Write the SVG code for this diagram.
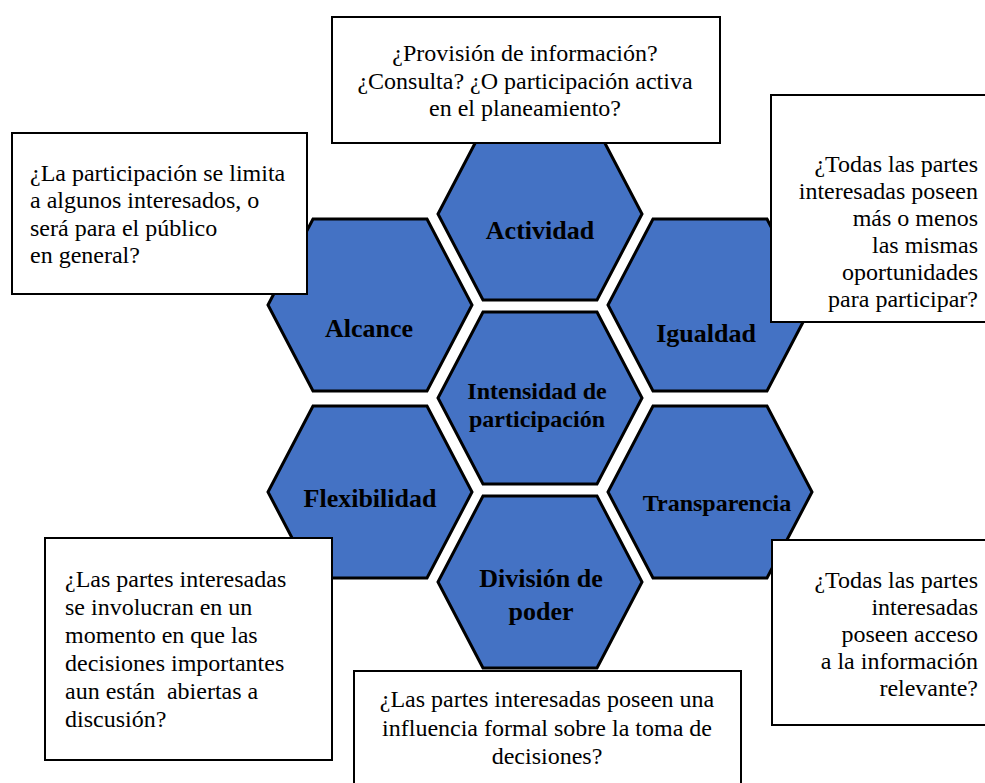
<svg xmlns="http://www.w3.org/2000/svg" width="985" height="783" viewBox="0 0 985 783">
<defs>
<style>
.hex{fill:#4472C4;stroke:#000;stroke-width:3;stroke-linejoin:miter}
.lbl{font-weight:bold;font-size:26px;fill:#000;text-anchor:middle}
.box{fill:#fff;stroke:#000;stroke-width:2}
.t{font-size:24px;fill:#000}
.c{text-anchor:middle}
.r{text-anchor:end}
</style>
<polygon id="hx" points="-102,0 -57,-86 57,-86 102,0 57,86 -57,86"/>
</defs>
<rect width="985" height="783" fill="#fff"/>
<g id="connectors"></g>
<g font-family="'Liberation Serif', Tinos, 'Times New Roman', 'DejaVu Serif', serif">
<g id="actividad"><use href="#hx" class="hex" x="540" y="214"/><text class="lbl" x="540" y="239">Actividad</text></g>
<g id="alcance"><use href="#hx" class="hex" x="370" y="305"/><text class="lbl" x="369" y="337">Alcance</text></g>
<g id="igualdad"><use href="#hx" class="hex" x="710" y="305"/><text class="lbl" x="706" y="342">Igualdad</text></g>
<g id="intensidad"><use href="#hx" class="hex" x="540" y="398"/><text class="lbl" style="font-size:24px" x="537" y="399">Intensidad de</text><text class="lbl" style="font-size:24px" x="537" y="427">participación</text></g>
<g id="flexibilidad"><use href="#hx" class="hex" x="370" y="492"/><text class="lbl" x="370" y="507">Flexibilidad</text></g>
<g id="transparencia"><use href="#hx" class="hex" x="710" y="492"/><text class="lbl" style="font-size:24px" x="717" y="511">Transparencia</text></g>
<g id="division"><use href="#hx" class="hex" x="540" y="582"/><text class="lbl" x="541" y="587">División de</text><text class="lbl" x="541" y="620">poder</text></g>
<g id="box-actividad"><rect class="box" x="332" y="17" width="388" height="126"/>
<text class="t c" x="525" y="61">¿Provisión de información?</text>
<text class="t c" x="525" y="89">¿Consulta? ¿O participación activa</text>
<text class="t c" x="525" y="116">en el planeamiento?</text></g>
<g id="box-alcance"><rect class="box" x="12" y="133" width="295" height="161"/>
<text class="t" x="30" y="181">¿La participación se limita</text>
<text class="t" x="30" y="208">a algunos interesados, o</text>
<text class="t" x="30" y="236">será para el público</text>
<text class="t" x="30" y="263">en general?</text></g>
<g id="box-igualdad"><rect class="box" x="771" y="95" width="230" height="227"/>
<text class="t r" x="978" y="172">¿Todas las partes</text>
<text class="t r" x="978" y="199">interesadas poseen</text>
<text class="t r" x="978" y="226">más o menos</text>
<text class="t r" x="978" y="253">las mismas</text>
<text class="t r" x="978" y="280">oportunidades</text>
<text class="t r" x="978" y="307">para participar?</text></g>
<g id="box-flexibilidad"><rect class="box" x="45" y="538" width="287" height="222"/>
<text class="t" x="65" y="587">¿Las partes interesadas</text>
<text class="t" x="65" y="615">se involucran en un</text>
<text class="t" x="65" y="643">momento en que las</text>
<text class="t" x="65" y="671">decisiones importantes</text>
<text class="t" x="65" y="699" xml:space="preserve">aun están  abiertas a</text>
<text class="t" x="65" y="727">discusión?</text></g>
<g id="box-transparencia"><rect class="box" x="772" y="540" width="230" height="185"/>
<text class="t r" x="978" y="588">¿Todas las partes</text>
<text class="t r" x="978" y="615">interesadas</text>
<text class="t r" x="978" y="642">poseen acceso</text>
<text class="t r" x="978" y="669">a la información</text>
<text class="t r" x="978" y="696">relevante?</text></g>
<g id="box-division"><rect class="box" x="354" y="671" width="387" height="130"/>
<text class="t c" x="547" y="707">¿Las partes interesadas poseen una</text>
<text class="t c" x="547" y="736">influencia formal sobre la toma de</text>
<text class="t c" x="547" y="764">decisiones?</text></g>
</g>
</svg>
